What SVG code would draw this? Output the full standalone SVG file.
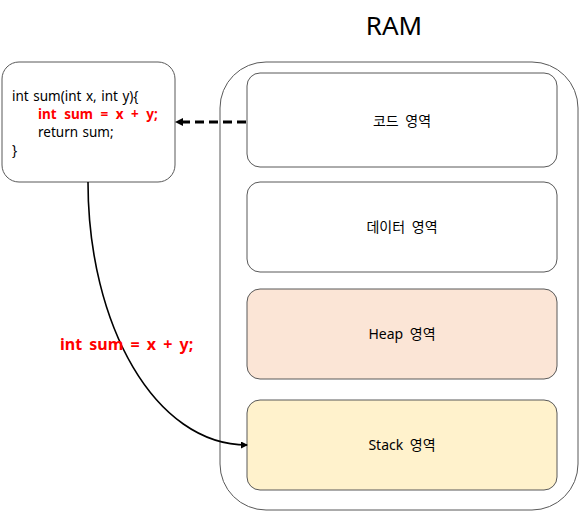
<svg xmlns="http://www.w3.org/2000/svg" width="580" height="511" viewBox="0 0 580 511">
<style>
text{font-family:"Noto Sans","Noto Sans CJK KR",sans-serif;fill:#000}
.box{stroke:#595959;stroke-width:1}
.lbl{font-size:14px;text-anchor:middle;word-spacing:3px}
.code{font-size:13.5px;word-spacing:1px}
.red{fill:#ff0000;font-weight:bold;word-spacing:4px}
</style>
<defs>
<marker id="ah" markerWidth="8" markerHeight="8" refX="7" refY="4" orient="auto" markerUnits="userSpaceOnUse">
<path d="M0,0 L8,4 L0,8 z" fill="#000"/>
</marker>
<marker id="ah2" markerWidth="7" markerHeight="7" refX="6" refY="3.5" orient="auto" markerUnits="userSpaceOnUse">
<path d="M0,0 L7,3.5 L0,7 z" fill="#000"/>
</marker>
</defs>
<text x="394" y="35" font-size="26" text-anchor="middle">RAM</text>
<g id="ram">
<rect x="220" y="62" width="358" height="448" rx="46" ry="46" fill="#fff" class="box"/>
</g>
<g id="code-area">
<rect x="247" y="73" width="310" height="94" rx="13" fill="#fff" class="box"/>
<text x="402" y="126" class="lbl">코드 영역</text>
</g>
<g id="data-area">
<rect x="247" y="182" width="310" height="90" rx="13" fill="#fff" class="box"/>
<text x="402" y="232" class="lbl">데이터 영역</text>
</g>
<g id="heap-area">
<rect x="247" y="289" width="310" height="90" rx="13" fill="#fbe5d6" class="box"/>
<text x="402" y="339" class="lbl">Heap 영역</text>
</g>
<g id="stack-area">
<rect x="247" y="400" width="310" height="90" rx="13" fill="#fff2cc" class="box"/>
<text x="402" y="450" class="lbl">Stack 영역</text>
</g>
<g id="func">
<rect x="2" y="62" width="173" height="120" rx="17" fill="#fff" class="box"/>
<text x="12" y="101" class="code">int sum(int x, int y){</text>
<text x="38" y="119" class="code red">int sum = x + y;</text>
<text x="38" y="137" class="code">return sum;</text>
<text x="12" y="155" class="code">}</text>
</g>
<g id="connectors">
<line x1="246" y1="122" x2="176" y2="122" stroke="#000" stroke-width="3" stroke-dasharray="9,5" marker-end="url(#ah)"/>
<path d="M88,182 C88,325 155,445 247,445" fill="none" stroke="#000" stroke-width="1.6" marker-end="url(#ah2)"/>
</g>
<text x="60" y="350" font-size="16" class="red" style="word-spacing:3px">int sum = x + y;</text>
</svg>
